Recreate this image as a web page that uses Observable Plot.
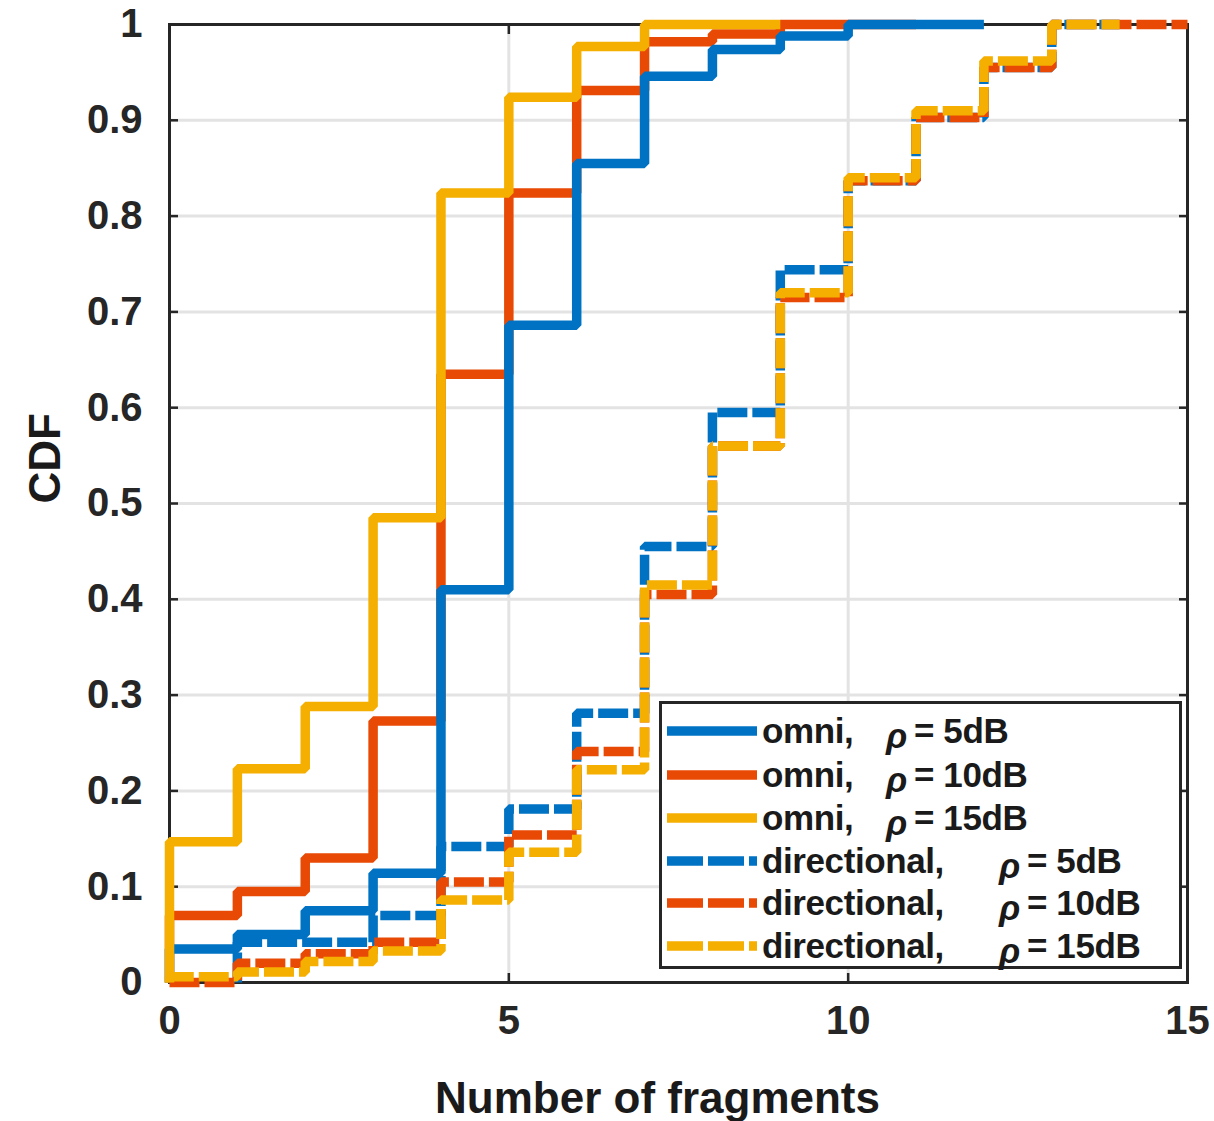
<!DOCTYPE html>
<html>
<head>
<meta charset="utf-8">
<script src="https://cdn.jsdelivr.net/npm/d3@7"></script>
<script src="https://cdn.jsdelivr.net/npm/@observablehq/plot@0.6"></script>
<style>
  html, body { margin: 0; padding: 0; background: #fff; }
  #wrap { position: relative; width: 1214px; height: 1121px; font-family: "Liberation Sans", Arial, sans-serif; }
  #legend { position: absolute; left: 659px; top: 701px; width: 523px; height: 268px; box-sizing: border-box;
            border: 3px solid #262626; background: #fff; }
  .row { position: absolute; left: 0; width: 100%; height: 40px; }
  .row svg { position: absolute; left: 5px; top: 0; }
  .row span { position: absolute; top: 0; line-height: 40px; font-size: 35px; font-weight: bold; color: #1a1a1a; white-space: pre; letter-spacing: -0.4px; }
  .row span.rho { font-style: italic; top: 5px; }
</style>
</head>
<body>
<div id="wrap"></div>
<script>
// ---- data ----
const xTicks = [0, 5, 10, 15];
const xTickLabels = ["0", "5", "10", "15"];
const yTicks = [0, 0.1, 0.2, 0.3, 0.4, 0.5, 0.6, 0.7, 0.8, 0.9, 1];
const yTickLabels = ["0", "0.1", "0.2", "0.3", "0.4", "0.5", "0.6", "0.7", "0.8", "0.9", "1"];

const omni5X  = [0, 0, 1, 2, 3, 4, 5, 6, 7, 8, 9, 10, 12];
const omni5Y  = [0, 0.035, 0.05, 0.075, 0.114, 0.41, 0.686, 0.855, 0.946, 0.974, 0.988, 1, 1];
const omni10X = [0, 0, 1, 2, 3, 4, 5, 6, 7, 8, 9, 11];
const omni10Y = [0, 0.07, 0.095, 0.13, 0.273, 0.635, 0.824, 0.931, 0.982, 0.99, 1, 1];
const omni15X = [0, 0, 1, 2, 3, 4, 5, 6, 7, 9];
const omni15Y = [0, 0.147, 0.223, 0.288, 0.485, 0.824, 0.924, 0.977, 1, 1];
const dir5X   = [1, 1, 3, 4, 5, 6, 7, 8, 9, 10, 11, 12, 13, 14];
const dir5Y   = [0, 0.042, 0.07, 0.142, 0.181, 0.281, 0.455, 0.595, 0.744, 0.837, 0.903, 0.955, 1, 1];
const dir10X  = [0, 1, 1, 2, 3, 4, 5, 6, 7, 8, 9, 10, 11, 12, 13, 15];
const dir10Y  = [0, 0, 0.02, 0.03, 0.042, 0.105, 0.154, 0.241, 0.405, 0.56, 0.715, 0.837, 0.903, 0.955, 1, 1];
const dir15X  = [0, 0, 1, 2, 3, 4, 5, 6, 7, 8, 9, 10, 11, 12, 13, 14];
const dir15Y  = [0, 0.006, 0.011, 0.022, 0.033, 0.086, 0.136, 0.222, 0.415, 0.56, 0.72, 0.84, 0.91, 0.962, 1, 1];

const legendLabels = ["omni,", "omni,", "omni,", "directional,", "directional,", "directional,"];
const legendValues = ["5dB", "10dB", "15dB", "5dB", "10dB", "15dB"];
const legendDashed = [false, false, false, true, true, true];
const seriesColors = ["#0072C4", "#E84A05", "#F5AF00", "#0072C4", "#E84A05", "#F5AF00"];

const xLabel = "Number of fragments";
const yLabel = "CDF";

// ---- build ----
const rows = (xs, ys) => xs.map((x, i) => ({x, y: ys[i]}));
const DASH = "30,5";
const lineOpts = (i) => ({
  x: "x", y: "y", curve: "step-after",
  stroke: seriesColors[i], strokeWidth: 9.5,
  strokeLinejoin: "miter", strokeLinecap: "butt",
  strokeDasharray: legendDashed[i] ? DASH : null
});

const chart = Plot.plot({
  width: 1214, height: 1121,
  marginTop: 24, marginLeft: 169, marginRight: 27, marginBottom: 139,
  style: {fontFamily: "'Liberation Sans', Arial, sans-serif", fontWeight: "bold", fontSize: "40px", color: "#262626", background: "#fff", overflow: "visible"},
  x: {domain: [0, 15]},
  y: {domain: [0, 1]},
  marks: [
    Plot.gridX(xTicks, {stroke: "#e3e3e3", strokeOpacity: 1, strokeWidth: 3}),
    Plot.gridY(yTicks, {stroke: "#e3e3e3", strokeOpacity: 1, strokeWidth: 3}),
    Plot.frame({stroke: "#262626", strokeWidth: 3}),
    Plot.axisY(yTicks, {anchor: "left", tickSize: -9, tickPadding: 36, strokeWidth: 2.5,
      tickFormat: d => yTickLabels[Math.round(d * 10)], label: null, fontSize: 40}),
    Plot.axisY(yTicks, {anchor: "right", tickSize: -9, strokeWidth: 2.5, fill: "none", label: null}),
    Plot.axisX(xTicks, {anchor: "bottom", tickSize: -9, tickPadding: 32, strokeWidth: 2.5,
      tickFormat: d => xTickLabels[xTicks.indexOf(d)], label: null, fontSize: 40}),
    Plot.axisX(xTicks, {anchor: "top", tickSize: -9, strokeWidth: 2.5, fill: "none", label: null}),
    Plot.line(rows(omni10X, omni10Y), lineOpts(1)),
    Plot.line(rows(omni5X, omni5Y), lineOpts(0)),
    Plot.line(rows(omni15X, omni15Y), lineOpts(2)),
    Plot.line(rows(dir5X, dir5Y), lineOpts(3)),
    Plot.line(rows(dir10X, dir10Y), lineOpts(4)),
    Plot.line(rows(dir15X, dir15Y), lineOpts(5)),
    Plot.text([xLabel], {frameAnchor: "bottom", dy: 130, dx: -21, fontSize: 44, fill: "#1a1a1a"}),
    Plot.text([yLabel], {frameAnchor: "left", dx: -124, rotate: -90, fontSize: 44, fill: "#1a1a1a"})
  ]
});

const wrap = document.getElementById("wrap");
wrap.appendChild(chart);

// ---- legend (inside the axes, lower right) ----
const legend = document.createElement("div");
legend.id = "legend";
const rowTops = [7, 51, 94, 137, 179, 222];
legendLabels.forEach((lab, i) => {
  const r = document.createElement("div");
  r.className = "row";
  r.style.top = rowTops[i] + "px";
  const isDir = lab.startsWith("directional");
  const rhoLeft = isDir ? 337 : 224;
  r.innerHTML =
    `<svg width="92" height="40"><line x1="0" x2="90" y1="20" y2="20" stroke="${seriesColors[i]}" stroke-width="9.5" ${legendDashed[i] ? 'stroke-dasharray="36,5"' : ''}/></svg>` +
    `<span style="left:100px">${lab}</span>` +
    `<span class="rho" style="left:${rhoLeft}px">ρ</span>` +
    `<span style="left:${rhoLeft + 28}px">= ${legendValues[i]}</span>`;
  legend.appendChild(r);
});
wrap.appendChild(legend);
</script>
</body>
</html>
